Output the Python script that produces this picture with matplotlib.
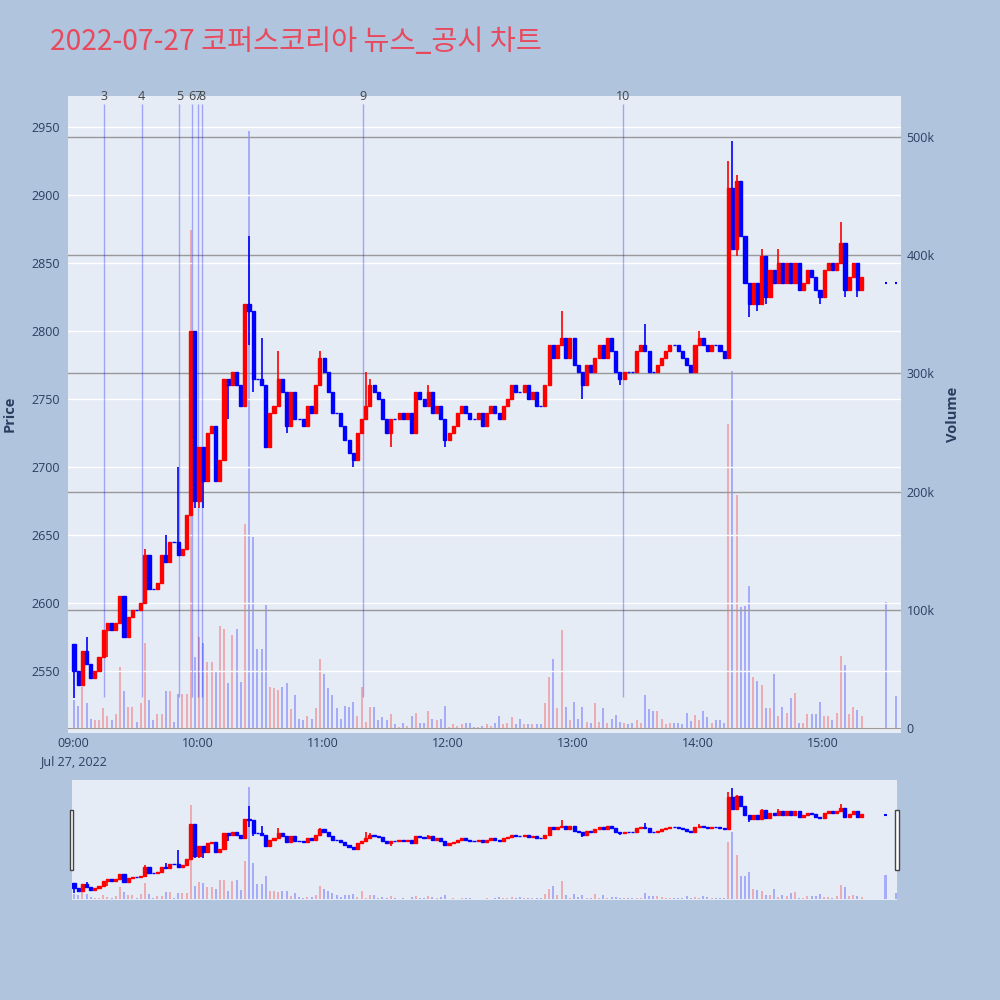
import numpy as np
import matplotlib
matplotlib.use('Agg')
import matplotlib.pyplot as plt
import matplotlib.transforms as mtransforms
from matplotlib.patches import Rectangle

# 2-minute bars from 09:00 to 15:18, close prices per hour
close_09 = [2550, 2540, 2565, 2555, 2545, 2550, 2560, 2580, 2585, 2580,
            2585, 2605, 2575, 2590, 2595, 2595, 2600, 2635, 2610, 2610,
            2615, 2635, 2630, 2645, 2645, 2635, 2640, 2665, 2800, 2675]
close_10 = [2715, 2690, 2725, 2730, 2690, 2705, 2765, 2760, 2770, 2760,
            2745, 2820, 2815, 2765, 2765, 2760, 2715, 2740, 2745, 2765,
            2755, 2730, 2755, 2735, 2735, 2730, 2745, 2740, 2760, 2780]
close_11 = [2770, 2755, 2740, 2740, 2730, 2720, 2710, 2705, 2725, 2735,
            2745, 2760, 2755, 2750, 2735, 2725, 2735, 2735, 2740, 2735,
            2740, 2725, 2755, 2750, 2745, 2755, 2740, 2745, 2735, 2720]
close_12 = [2725, 2730, 2740, 2745, 2740, 2735, 2735, 2740, 2730, 2740,
            2745, 2740, 2735, 2745, 2750, 2760, 2755, 2755, 2760, 2750,
            2755, 2745, 2745, 2760, 2790, 2780, 2790, 2795, 2780, 2795]
close_13 = [2775, 2770, 2760, 2775, 2770, 2780, 2790, 2780, 2795, 2785,
            2770, 2765, 2770, 2770, 2770, 2785, 2790, 2785, 2770, 2770,
            2775, 2780, 2785, 2790, 2790, 2785, 2780, 2775, 2770, 2790]
close_14 = [2795, 2790, 2785, 2790, 2790, 2785, 2780, 2905, 2860, 2910,
            2870, 2835, 2820, 2835, 2820, 2855, 2825, 2845, 2835, 2850,
            2835, 2850, 2835, 2850, 2830, 2835, 2845, 2840, 2830, 2825]
close_15 = [2845, 2850, 2845, 2850, 2865, 2830, 2840, 2850, 2830, 2840]
first_open = 2570

# volume per 2-minute bar (thousand shares)
vol_09 = [24, 19, 35, 21, 8, 7, 7, 17, 10, 7, 12, 52, 31, 18, 18,
          5, 21, 72, 24, 7, 12, 12, 31, 31, 5, 29, 29, 29, 421, 60]
vol_10 = [77, 72, 56, 56, 47, 86, 84, 38, 79, 84, 39, 173, 505, 162, 67,
          67, 104, 35, 34, 32, 35, 38, 16, 28, 8, 7, 10, 8, 17, 58]
vol_11 = [46, 34, 28, 17, 8, 19, 18, 22, 10, 35, 5, 18, 18, 7, 9,
          7, 12, 3, 1, 4, 2, 10, 13, 4, 4, 14, 8, 7, 8, 19]
vol_12 = [1, 3, 2, 3, 4, 4, 1, 1, 2, 3, 2, 4, 10, 3, 4,
          9, 3, 8, 3, 3, 3, 3, 3, 21, 43, 58, 17, 83, 18, 7]
vol_13 = [22, 8, 18, 5, 4, 21, 5, 17, 4, 8, 11, 5, 4, 3, 4,
          7, 4, 28, 16, 14, 14, 8, 3, 4, 4, 4, 3, 13, 6, 11]
vol_14 = [7, 14, 9, 4, 7, 7, 4, 257, 302, 197, 102, 103, 120, 43, 40,
          36, 17, 17, 46, 10, 18, 13, 25, 30, 4, 4, 12, 12, 12, 22]
vol_15 = [10, 10, 7, 13, 61, 53, 12, 18, 15, 10]

# wicks beyond the bodies
wick_high = {"09:06": 2575, "09:34": 2640, "09:44": 2650, "09:50": 2700,
             "10:24": 2870, "10:30": 2795, "10:38": 2785, "10:58": 2785,
             "11:20": 2770, "11:22": 2765, "11:50": 2760, "12:54": 2815,
             "13:34": 2805, "14:00": 2800, "14:14": 2925, "14:16": 2940,
             "14:18": 2915, "14:30": 2860, "14:38": 2860, "15:08": 2880}
wick_low = {"09:00": 2530, "09:16": 2560, "09:58": 2670, "10:00": 2670,
            "10:02": 2670, "10:14": 2735, "10:24": 2790, "10:26": 2755,
            "10:42": 2725, "11:14": 2700, "11:32": 2715, "11:58": 2715,
            "13:04": 2750, "13:22": 2760, "14:18": 2855, "14:24": 2810,
            "14:28": 2815, "14:32": 2820, "14:58": 2820, "15:10": 2825,
            "15:16": 2825}

# closing auction prints
auction_time = ["15:30", "15:35"]
auction_price = [2835, 2835]
auction_vol = [107, 27]

# news / disclosure markers
news_labels = ["3", "4", "5", "6", "7", "8", "9", "10"]
news_time = ["09:15", "09:33", "09:51", "09:57", "10:00", "10:02", "11:19", "13:24"]

price_ticks = [2550, 2600, 2650, 2700, 2750, 2800, 2850, 2900, 2950]
vol_ticks = [0, 100, 200, 300, 400, 500]
hour_ticks = ["09:00", "10:00", "11:00", "12:00", "13:00", "14:00", "15:00"]
date_label = "Jul 27, 2022"


def minutes(hhmm):
    h, m = hhmm.split(":")
    return (int(h) - 9) * 60 + int(m)


RED = '#FF0000'
BLUE = '#0000FF'
BG = '#B0C4DE'
PLOT_BG = '#E5ECF6'
TXT = '#2a3f5f'

plt.rcParams['font.family'] = ['Open Sans', 'DejaVu Sans']

closes = np.array(close_09 + close_10 + close_11 + close_12 + close_13 + close_14 + close_15, float)
vols = np.array(vol_09 + vol_10 + vol_11 + vol_12 + vol_13 + vol_14 + vol_15, float)
t_bar = np.arange(len(closes)) * 2.0
opens = np.concatenate([[first_open], closes[:-1]])
highs = np.maximum(opens, closes)
lows = np.minimum(opens, closes)
for k, v in wick_high.items():
    i = minutes(k) // 2
    highs[i] = max(highs[i], v)
for k, v in wick_low.items():
    i = minutes(k) // 2
    lows[i] = min(lows[i], v)
up = closes > opens

a_t = np.array([minutes(s) for s in auction_time], float)
a_p = np.array(auction_price, float)
a_v = np.array(auction_vol, float)

x_pos = t_bar + 0.5
bar_colors = np.where(up, RED, BLUE)


def draw_candles(axp, axv, body_w=1.5, lw=1.0):
    axp.vlines(x_pos, lows, highs, colors=bar_colors, lw=1.2, zorder=3)
    axp.bar(x_pos, np.abs(closes - opens), width=body_w, bottom=np.minimum(opens, closes),
            color=bar_colors, edgecolor=bar_colors, lw=lw, zorder=3)
    axp.bar(a_t, np.zeros_like(a_p), width=1.0, bottom=a_p, color=BLUE, edgecolor=BLUE, lw=1.5, zorder=3)
    axv.bar(x_pos, vols, width=1.0, color=bar_colors, alpha=0.27, lw=0)
    axv.bar(a_t, a_v, width=1.0, color=BLUE, alpha=0.27, lw=0)


fig = plt.figure(figsize=(10, 10), dpi=100, facecolor=BG)

# main panel
ax = fig.add_axes([0.068, 0.267, 0.833, 0.637])
ax2 = ax.twinx()
ax.set_zorder(2)
ax2.set_zorder(1)
ax.patch.set_visible(False)
ax2.patch.set_visible(True)
ax2.patch.set_facecolor(PLOT_BG)

x_lo, x_hi = -2.4, 397.4
p_lo, p_hi = 2504.4, 2972.8
v_lo, v_hi = -4.2, 534.7

draw_candles(ax, ax2)

ax.set_xlim(x_lo, x_hi)
ax.set_ylim(p_lo, p_hi)
ax2.set_ylim(v_lo, v_hi)

ax.set_yticks(price_ticks)
ax.grid(axis='y', color='white', lw=1)
ax.set_axisbelow(True)
ax2.set_yticks(vol_ticks)
ax2.set_yticklabels([f"{v}k" if v else "0" for v in vol_ticks])
ax2.grid(axis='y', color='#999999', lw=1)
ax2.axhline(0, color='white', lw=2, zorder=0)

ax.set_xticks([minutes(h) for h in hour_ticks])
ax.set_xticklabels(hour_ticks)
for a in (ax, ax2):
    a.tick_params(length=0, labelsize=9, colors=TXT)
    for s in a.spines.values():
        s.set_visible(False)
ax.tick_params(axis='x', pad=3)
ax.tick_params(axis='y', pad=6)
ax2.tick_params(axis='y', pad=4)

trans = mtransforms.blended_transform_factory(ax.transData, ax.transAxes)
ax.text(minutes(hour_ticks[0]), -0.045, date_label, transform=trans, ha='center', va='center',
        fontsize=9, color=TXT)

# news lines
n_t = [minutes(s) for s in news_time]
ax.vlines(n_t, 2531, 2967, colors=(0, 0, 1, 0.3), lw=1, zorder=2)
for lab, tt in zip(news_labels, n_t):
    ax.text(tt, 1.0, lab, transform=trans, ha='center', va='center', fontsize=9, color='#444444')

# range slider
sl = fig.add_axes([0.072, 0.100, 0.825, 0.120])
sl2 = sl.twinx()
sl.set_zorder(2)
sl2.set_zorder(1)
sl.patch.set_visible(False)
sl2.patch.set_visible(True)
sl2.patch.set_facecolor(PLOT_BG)
draw_candles(sl, sl2)
sl.set_xlim(-0.48, 395.5)
sl.set_ylim(p_lo, p_hi)
sl2.set_ylim(v_lo, v_hi)
for a in (sl, sl2):
    a.set_xticks([])
    a.set_yticks([])
    for s in a.spines.values():
        s.set_visible(False)

for hx in (0.0695, 0.8950):
    fig.add_artist(Rectangle((hx, 0.130), 0.0035, 0.060, transform=fig.transFigure,
                             facecolor='white', edgecolor='#444444', lw=1, zorder=10))

# titles
fig.text(0.05, 0.958, "2022-07-27 코퍼스코리아 뉴스_공시 차트", fontsize=20.4, color='#E8495D',
         va='center', ha='left', family=['Noto Sans CJK KR', 'DejaVu Sans'])
fig.text(0.010, 0.586, "Price", rotation=90, fontsize=10.5, fontweight='bold', color=TXT,
         ha='center', va='center')
fig.text(0.953, 0.586, "Volume", rotation=90, fontsize=10.5, fontweight='bold', color=TXT,
         ha='center', va='center')

fig.savefig('out.png', dpi=100, facecolor=BG)
